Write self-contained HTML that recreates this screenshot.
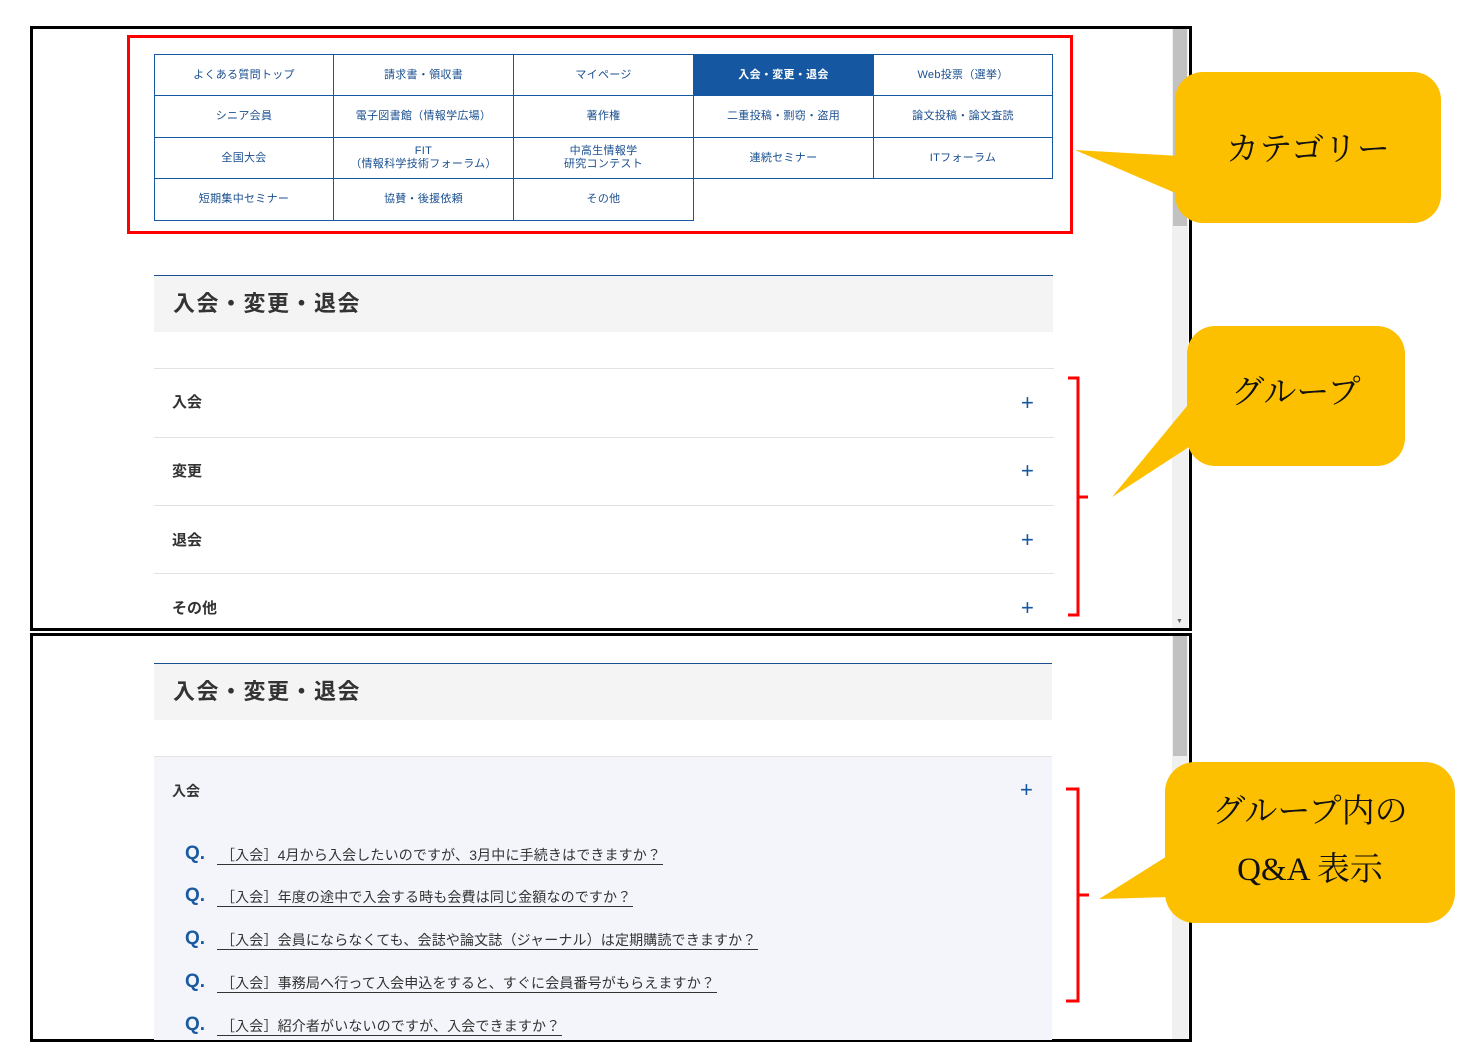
<!DOCTYPE html>
<html><head><meta charset="utf-8"><style>
*{margin:0;padding:0;box-sizing:border-box}
body{width:1480px;height:1059px;background:#fff;position:relative;overflow:hidden;font-family:"Liberation Sans","Noto Sans CJK JP",sans-serif;color:#333}
.a{position:absolute}
.frame{position:absolute;border:3px solid #000;background:#fff;overflow:hidden}
.sb{position:absolute;background:#f0f0f0}
.thumb{position:absolute;background:#c1c1c1}
.cell{position:absolute;border:1px solid #1557a0;display:flex;align-items:center;justify-content:center;text-align:center;font-size:11px;line-height:13px;color:#1a4f8f;background:#fff;letter-spacing:0.3px}
.act{background:#1557a0;color:#fff;font-weight:bold}
.hd{position:absolute;left:154px;width:899px;height:57px;background:#f4f4f4;border-top:1px solid #1a4f8f;font-size:22px;font-weight:bold;color:#333;padding-left:19px;line-height:56px;letter-spacing:1.5px}
.gl{position:absolute;left:154px;width:900px;height:1px;background:#e3e3e3}
.gt{position:absolute;left:172px;font-size:15px;font-weight:bold;color:#333;line-height:20px}
.pl{position:absolute;font-size:22px;color:#1557a0;line-height:20px}
.q{position:absolute;left:185px;font-size:19px;font-weight:bold;color:#1a5aa0;line-height:22px}
.qt{position:absolute;left:217px;font-size:14px;color:#333;line-height:18px;border-bottom:1px solid #333;padding:0 2px 0 4px;letter-spacing:0.15px}
.ct{position:absolute;font-family:"Liberation Serif","Noto Serif CJK SC",serif;font-size:33px;color:#111;text-align:center;line-height:40px}
</style></head><body>
<div class="frame" style="left:30px;top:26px;width:1162px;height:605px"></div>
<div class="sb" style="left:1172px;top:29px;width:16px;height:599px"></div>
<div class="thumb" style="left:1173px;top:29px;width:14px;height:197px"></div>
<div class="a" style="left:1176px;top:618px;font-size:7px;color:#666">▼</div>
<div class="frame" style="left:30px;top:633px;width:1162px;height:409px"></div>
<div class="sb" style="left:1172px;top:636px;width:16px;height:403px"></div>
<div class="thumb" style="left:1173px;top:636px;width:14px;height:120px"></div>

<div class="a" style="left:127px;top:35px;width:946px;height:199px;border:3px solid #f00"></div>
<div class="cell" style="left:154px;top:54px;width:180px;height:42px">よくある質問トップ</div>
<div class="cell" style="left:333px;top:54px;width:181px;height:42px">請求書・領収書</div>
<div class="cell" style="left:513px;top:54px;width:181px;height:42px">マイページ</div>
<div class="cell act" style="left:693px;top:54px;width:181px;height:42px">入会・変更・退会</div>
<div class="cell" style="left:873px;top:54px;width:180px;height:42px">Web投票（選挙）</div>
<div class="cell" style="left:154px;top:95px;width:180px;height:43px">シニア会員</div>
<div class="cell" style="left:333px;top:95px;width:181px;height:43px">電子図書館（情報学広場）</div>
<div class="cell" style="left:513px;top:95px;width:181px;height:43px">著作権</div>
<div class="cell" style="left:693px;top:95px;width:181px;height:43px">二重投稿・剽窃・盗用</div>
<div class="cell" style="left:873px;top:95px;width:180px;height:43px">論文投稿・論文査読</div>
<div class="cell" style="left:154px;top:137px;width:180px;height:42px">全国大会</div>
<div class="cell" style="left:333px;top:137px;width:181px;height:42px">FIT<br>（情報科学技術フォーラム）</div>
<div class="cell" style="left:513px;top:137px;width:181px;height:42px">中高生情報学<br>研究コンテスト</div>
<div class="cell" style="left:693px;top:137px;width:181px;height:42px">連続セミナー</div>
<div class="cell" style="left:873px;top:137px;width:180px;height:42px">ITフォーラム</div>
<div class="cell" style="left:154px;top:178px;width:180px;height:43px">短期集中セミナー</div>
<div class="cell" style="left:333px;top:178px;width:181px;height:43px">協賛・後援依頼</div>
<div class="cell" style="left:513px;top:178px;width:181px;height:43px">その他</div>

<div class="hd" style="top:275px">入会・変更・退会</div>
<div class="gl" style="top:368px"></div>
<div class="gl" style="top:437px"></div>
<div class="gl" style="top:505px"></div>
<div class="gl" style="top:573px"></div>
<div class="gt" style="top:393px">入会</div><div class="pl" style="left:1021px;top:393px">+</div>
<div class="gt" style="top:462px">変更</div><div class="pl" style="left:1021px;top:461px">+</div>
<div class="gt" style="top:531px">退会</div><div class="pl" style="left:1021px;top:530px">+</div>
<div class="gt" style="top:599px">その他</div><div class="pl" style="left:1021px;top:598px">+</div>

<div class="hd" style="top:663px;width:898px">入会・変更・退会</div>
<div class="a" style="left:154px;top:756px;width:898px;height:284px;background:#f3f5fa;border-top:1px solid #e3e3e3"></div>
<div class="gt" style="top:781px;font-size:14px">入会</div><div class="pl" style="left:1020px;top:780px">+</div>
<div class="q" style="top:843px">Q.</div><div class="qt" style="top:846px">［入会］4月から入会したいのですが、3月中に手続きはできますか？</div>
<div class="q" style="top:885px">Q.</div><div class="qt" style="top:888px">［入会］年度の途中で入会する時も会費は同じ金額なのですか？</div>
<div class="q" style="top:928px">Q.</div><div class="qt" style="top:931px">［入会］会員にならなくても、会誌や論文誌（ジャーナル）は定期購読できますか？</div>
<div class="q" style="top:971px">Q.</div><div class="qt" style="top:974px">［入会］事務局へ行って入会申込をすると、すぐに会員番号がもらえますか？</div>
<div class="q" style="top:1014px">Q.</div><div class="qt" style="top:1017px">［入会］紹介者がいないのですが、入会できますか？</div>

<svg class="a" style="left:0;top:0" width="1480" height="1059">
<g fill="#fdc000">
<rect x="1175" y="72" width="266" height="151" rx="28"/>
<polygon points="1075,150 1180,156 1180,195"/>
<rect x="1187" y="326" width="218" height="140" rx="28"/>
<polygon points="1112,497 1192,400 1192,445"/>
<rect x="1165" y="762" width="290" height="161" rx="30"/>
<polygon points="1099,899 1172,853 1172,897"/>
</g>
<g fill="none" stroke="#f00" stroke-width="3">
<polyline points="1068,378 1078,378 1078,615 1068,615"/>
<line x1="1078" y1="497" x2="1088" y2="497"/>
<polyline points="1066,789 1078,789 1078,1001 1066,1001"/>
<line x1="1078" y1="895" x2="1089" y2="895"/>
</g>
</svg>
<div class="ct" style="left:1175px;top:130px;width:266px">カテゴリー</div>
<div class="ct" style="left:1187px;top:373px;width:218px">グループ</div>
<div class="ct" style="left:1165px;top:792px;width:290px">グループ内の</div>
<div class="ct" style="left:1165px;top:850px;width:290px">Q&amp;A 表示</div>
</body></html>
